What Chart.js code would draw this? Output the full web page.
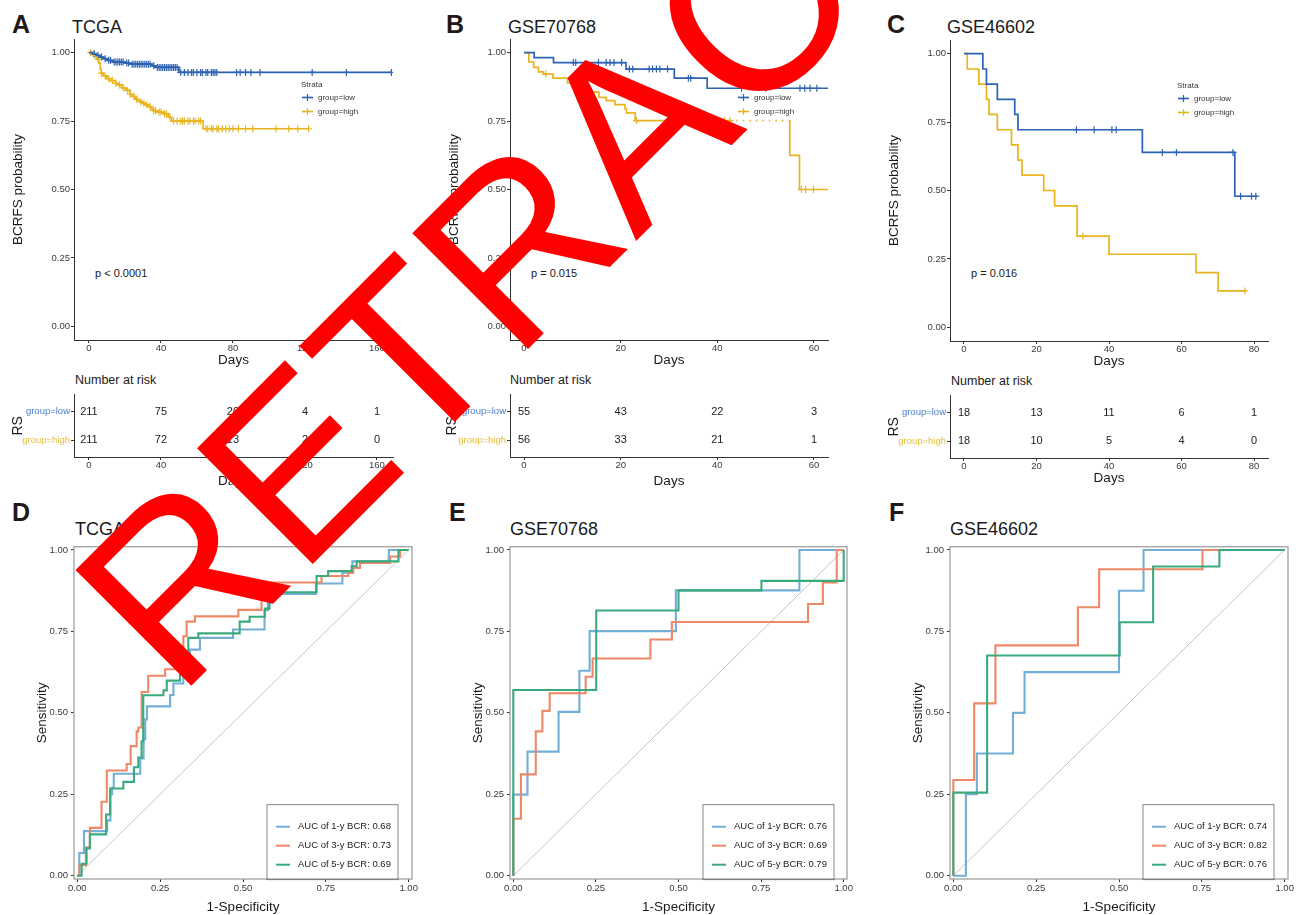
<!DOCTYPE html>
<html>
<head>
<meta charset="utf-8">
<script src="https://cdn.jsdelivr.net/npm/chart.js@4.4.1/dist/chart.umd.min.js"></script>
<style>
  html, body { margin: 0; padding: 0; background: #fff; overflow: hidden; }
  #fig { position: relative; width: 1303px; height: 915px; }
  canvas { position: absolute; }
  svg { position: absolute; left: 0; top: 0; }
</style>
</head>
<body>
<div id="fig">
<svg width="1303" height="915" font-family="'Liberation Sans', Arial, sans-serif">
  <g font-weight="bold" font-size="25" fill="#231815">
    <text x="12" y="33">A</text>
    <text x="446" y="33">B</text>
    <text x="887" y="33">C</text>
    <text x="12" y="521">D</text>
    <text x="449" y="521">E</text>
    <text x="889" y="521">F</text>
  </g>
  <g font-size="18" fill="#1a1a1a">
    <text x="72" y="33">TCGA</text>
    <text x="508" y="33">GSE70768</text>
    <text x="947" y="33">GSE46602</text>
    <text x="75" y="535">TCGA</text>
    <text x="510" y="535">GSE70768</text>
    <text x="950" y="535">GSE46602</text>
  </g>
  <g font-size="11" fill="#1a1a1a">
    <text x="95" y="277">p &lt; 0.0001</text>
    <text x="531" y="277">p = 0.015</text>
    <text x="971" y="277">p = 0.016</text>
  </g>
  <g font-size="12.5" fill="#1a1a1a">
    <text x="75" y="384">Number at risk</text>
    <text x="510" y="384">Number at risk</text>
    <text x="951" y="385">Number at risk</text>
  </g>
</svg>

<canvas id="kmA" width="413" height="340" style="left:0px;top:30px"></canvas>
<canvas id="kmB" width="418" height="340" style="left:430px;top:30px"></canvas>
<canvas id="kmC" width="418" height="340" style="left:870px;top:31px"></canvas>
<canvas id="riskA" width="413" height="103" style="left:0px;top:388px"></canvas>
<canvas id="riskB" width="418" height="103" style="left:430px;top:388px"></canvas>
<canvas id="riskC" width="418" height="103" style="left:870px;top:389px"></canvas>
<canvas id="rocD" width="430" height="377" style="left:0px;top:538px"></canvas>
<canvas id="rocE" width="430" height="377" style="left:430px;top:538px"></canvas>
<canvas id="rocF" width="433" height="377" style="left:870px;top:538px"></canvas>

<svg width="1303" height="915" style="pointer-events:none">
  <text x="177.6" y="699.4" transform="rotate(-45 177.6 699.4)" font-size="238"
        font-family="'Liberation Sans', Arial, sans-serif" fill="#FF0000">RETRACTED</text>
</svg>
</div>

<script>
const FONT = "'Liberation Sans', Arial, sans-serif";
Chart.defaults.font.family = FONT;
Chart.defaults.animation = false;

const LOW = '#2C63B2', HIGH = '#E8B520';
const LOW_TXT = '#4A7ECB', HIGH_TXT = '#E5BC3A';
const ROC1 = '#73AED6', ROC3 = '#EE8866', ROC5 = '#3AAA7D';

// ---- KM data: event times and survival after each event ----
// TCGA
const tcgaLowTimes = [2, 4, 6, 8, 10, 13, 20, 23, 35, 37, 50];
const tcgaLowSurv = [0.995, 0.99, 0.984, 0.978, 0.972, 0.966, 0.962, 0.958, 0.952, 0.946, 0.928];
const tcgaLowEnd = 168;
const tcgaLowCensor = [3, 5, 7, 9, 11, 12, 14, 15, 16, 17, 18, 19, 21, 22, 24, 25, 26, 27, 28, 29, 30, 31, 32, 33, 34, 36, 38, 39, 40, 41, 42, 43, 44, 45, 46, 47, 48, 49, 51, 53, 55, 57, 58, 60, 62, 63, 65, 66, 68, 69, 70, 71, 82, 84, 87, 90, 95, 124, 143, 168];
const tcgaHighTimes = [1.5, 3, 4.5, 5.5, 6.3, 6.8, 8, 10, 12, 14.6, 16, 18.2, 20, 21, 22.9, 24, 25.6, 27, 28.4, 30, 31.2, 33, 34.8, 35.8, 38, 41.3, 44, 45.9, 63.4];
const tcgaHighSurv = [0.995, 0.988, 0.976, 0.962, 0.94, 0.925, 0.915, 0.905, 0.898, 0.888, 0.882, 0.872, 0.868, 0.862, 0.848, 0.84, 0.83, 0.825, 0.82, 0.815, 0.81, 0.803, 0.795, 0.788, 0.783, 0.777, 0.764, 0.75, 0.722];
const tcgaHighEnd = 122;
const tcgaHighCensor = [1, 2.5, 4, 5, 7, 9, 11, 13, 15, 17, 19, 21.5, 23, 25, 26.5, 29, 30.5, 32, 34, 36, 37, 39, 40, 42, 43, 45, 47, 49, 51, 52, 53, 55, 56, 58, 59, 61, 62, 65, 66, 68, 69, 71, 72, 74, 76, 78, 80, 83, 87, 91, 104, 111, 116, 122];

// GSE70768
const g70LowTimes = [2.1, 6.1, 21.1, 31.1, 37.9];
const g70LowSurv = [0.982, 0.964, 0.94, 0.907, 0.87];
const g70LowEnd = 63;
const g70LowCensor = [10.2, 10.7, 15.4, 17, 17.8, 18.6, 20.2, 21.8, 22.5, 25.9, 26.6, 27.4, 28.1, 29.7, 34, 34.5, 45, 50, 57.1, 58.1, 59.2, 60.6];
const g70HighTimes = [1, 2, 3, 4, 6, 9, 11, 13, 15.5, 17, 18.8, 20.9, 21.2, 23, 42.6, 54.9, 55, 57];
const g70HighSurv = [0.966, 0.946, 0.93, 0.922, 0.907, 0.89, 0.873, 0.856, 0.837, 0.825, 0.81, 0.795, 0.78, 0.752, 0.752, 0.752, 0.625, 0.5];
const g70HighEnd = 63;
const g70HighCensor = [4.5, 23.3, 40.5, 41.5, 42.6, 57.4, 58.3, 59.9];

// GSE46602
const g46LowTimes = [5.2, 6.2, 9.2, 14, 14.9, 49.2, 74.7];
const g46LowSurv = [0.944, 0.889, 0.833, 0.778, 0.722, 0.639, 0.479];
const g46LowEnd = 81;
const g46LowCensor = [31, 35.9, 40.8, 42, 54.7, 58.6, 74.2, 76.3, 79.3, 80.5];
const g46HighTimes = [0.9, 4.1, 6.2, 6.9, 9.2, 13.1, 14.9, 16, 22, 25, 31.2, 40, 64, 70.1];
const g46HighSurv = [0.944, 0.889, 0.833, 0.778, 0.722, 0.667, 0.611, 0.556, 0.5, 0.444, 0.333, 0.267, 0.2, 0.133];
const g46HighEnd = 77.5;
const g46HighCensor = [32.8, 77.5];

// ---- Number at risk ----
const riskTimesA = [0, 40, 80, 120, 160];
const riskLowA = [211, 75, 20, 4, 1];
const riskHighA = [211, 72, 13, 2, 0];
const riskTimesB = [0, 20, 40, 60];
const riskLowB = [55, 43, 22, 3];
const riskHighB = [56, 33, 21, 1];
const riskTimesC = [0, 20, 40, 60, 80];
const riskLowC = [18, 13, 11, 6, 1];
const riskHighC = [18, 10, 5, 4, 0];

// ---- ROC curves (1-specificity, sensitivity) ----
const rocD1x = [0, 0.006, 0.02, 0.09, 0.10, 0.105, 0.11, 0.19, 0.20, 0.205, 0.21, 0.28, 0.29, 0.32, 0.34, 0.37, 0.47, 0.565, 0.575, 0.585, 0.72, 0.80, 0.83, 0.94, 1];
const rocD1y = [0, 0.07, 0.137, 0.17, 0.25, 0.27, 0.313, 0.36, 0.42, 0.48, 0.52, 0.555, 0.59, 0.62, 0.694, 0.73, 0.756, 0.815, 0.84, 0.865, 0.897, 0.93, 0.965, 1, 1];
const rocD3x = [0, 0.006, 0.026, 0.038, 0.073, 0.089, 0.149, 0.161, 0.179, 0.184, 0.194, 0.214, 0.265, 0.30, 0.32, 0.33, 0.355, 0.486, 0.556, 0.575, 0.737, 0.818, 0.833, 0.853, 0.944, 0.974, 1];
const rocD3y = [0, 0.032, 0.087, 0.147, 0.227, 0.323, 0.343, 0.398, 0.443, 0.455, 0.564, 0.614, 0.634, 0.68, 0.735, 0.78, 0.796, 0.816, 0.85, 0.90, 0.92, 0.93, 0.945, 0.96, 0.98, 1, 1];
const rocD5x = [0, 0.013, 0.028, 0.038, 0.087, 0.099, 0.139, 0.171, 0.184, 0.194, 0.199, 0.26, 0.27, 0.31, 0.32, 0.335, 0.365, 0.49, 0.52, 0.566, 0.58, 0.59, 0.722, 0.757, 0.828, 0.843, 0.969, 1];
const rocD5y = [0, 0.037, 0.084, 0.127, 0.188, 0.268, 0.288, 0.333, 0.363, 0.413, 0.554, 0.569, 0.599, 0.65, 0.68, 0.73, 0.744, 0.78, 0.795, 0.82, 0.85, 0.87, 0.92, 0.935, 0.95, 0.965, 1, 1];
const aucD = [0.68, 0.73, 0.69];

const rocE1x = [0, 0, 0.043, 0.137, 0.2, 0.231, 0.492, 0.866, 1];
const rocE1y = [0, 0.249, 0.381, 0.503, 0.629, 0.751, 0.876, 1, 1];
const rocE3x = [0, 0, 0.023, 0.068, 0.088, 0.11, 0.219, 0.24, 0.415, 0.48, 0.892, 0.937, 0.979, 1];
const rocE3y = [0, 0.175, 0.311, 0.443, 0.506, 0.56, 0.611, 0.667, 0.725, 0.779, 0.834, 0.9, 1, 1];
const rocE5x = [0, 0, 0.251, 0.5, 0.751, 1];
const rocE5y = [0, 0.57, 0.814, 0.876, 0.905, 1];
const aucE = [0.76, 0.69, 0.79];

const rocF1x = [0, 0.038, 0.071, 0.18, 0.215, 0.5, 0.574, 1];
const rocF1y = [0, 0.25, 0.375, 0.5, 0.625, 0.875, 1, 1];
const rocF3x = [0, 0, 0.063, 0.127, 0.376, 0.44, 0.752, 1];
const rocF3y = [0, 0.294, 0.529, 0.707, 0.824, 0.941, 1, 1];
const rocF5x = [0, 0, 0.102, 0.502, 0.603, 0.803, 1];
const rocF5y = [0, 0.255, 0.676, 0.778, 0.949, 1, 1];
const aucF = [0.74, 0.82, 0.76];

const probTicks = [0, 0.25, 0.5, 0.75, 1];

// ---- helpers ----
function kmPoints(times, surv, end) {
  const pts = [{ x: 0, y: 1 }];
  times.forEach((t, i) => pts.push({ x: t, y: surv[i] }));
  pts.push({ x: end, y: surv[surv.length - 1] });
  return pts;
}
function survAt(times, surv, t) {
  let s = 1;
  for (let i = 0; i < times.length; i++) if (times[i] <= t) s = surv[i];
  return s;
}
function xy(xs, ys) {
  return xs.map((x, i) => ({ x: x, y: ys[i] }));
}

function axis(min, max, ticks, fmt, o) {
  return {
    type: 'linear', min: min, max: max,
    afterBuildTicks: s => { s.ticks = ticks.map(v => ({ value: v })); },
    afterFit: o.fit,
    ticks: { callback: fmt, font: { size: 9.5 }, color: o.tickColor || '#3a3a3a',
             padding: o.pad, maxRotation: 0, autoSkip: false },
    grid: { display: true, drawOnChartArea: false, drawTicks: true, tickLength: 3, tickColor: '#333' },
    border: { display: o.border !== false, color: '#333', width: 1 },
    title: o.title
  };
}

const kmLegend = {
  id: 'kmLegend',
  afterDraw(chart, args, opts) {
    const { ctx, chartArea } = chart;
    const x = chartArea.left + opts.dx, y = chartArea.top + opts.dy;
    ctx.save();
    ctx.font = '8px ' + FONT;
    ctx.fillStyle = '#333';
    ctx.fillText('Strata', x, y);
    chart.data.datasets.filter(d => d.legend).forEach((d, i) => {
      const yy = y + 10.5 + i * 14;
      ctx.strokeStyle = d.borderColor;
      ctx.lineWidth = 1.7;
      ctx.beginPath(); ctx.moveTo(x + 1, yy); ctx.lineTo(x + 12, yy); ctx.stroke();
      ctx.lineWidth = 1.2;
      ctx.beginPath(); ctx.moveTo(x + 6.5, yy - 3.5); ctx.lineTo(x + 6.5, yy + 3.5); ctx.stroke();
      ctx.fillStyle = '#333';
      ctx.textBaseline = 'middle';
      ctx.fillText(d.label, x + 17, yy);
      ctx.textBaseline = 'alphabetic';
    });
    ctx.restore();
  }
};

const riskText = {
  id: 'riskText',
  afterDatasetsDraw(chart) {
    const ctx = chart.ctx;
    ctx.save();
    ctx.font = '11px ' + FONT;
    ctx.fillStyle = '#222';
    ctx.textAlign = 'center';
    ctx.textBaseline = 'middle';
    chart.data.datasets.forEach((ds, i) => {
      chart.getDatasetMeta(i).data.forEach((el, j) => ctx.fillText(String(ds.data[j].n), el.x, el.y));
    });
    ctx.restore();
  }
};

const rocFrame = {
  id: 'rocFrame',
  afterDraw(chart) {
    const { ctx, chartArea: a } = chart;
    ctx.save();
    ctx.strokeStyle = '#A0A0A0';
    ctx.lineWidth = 1.3;
    ctx.strokeRect(a.left, a.top, a.right - a.left, a.bottom - a.top);
    // legend box
    const bx = a.left + 193, by = a.top + 258;
    ctx.strokeStyle = '#666';
    ctx.lineWidth = 0.8;
    ctx.strokeRect(bx, by, 131, 75);
    ctx.font = '9.5px ' + FONT;
    ctx.textBaseline = 'middle';
    const items = chart.data.datasets.filter(d => d.legendIndex !== undefined)
      .sort((p, q) => p.legendIndex - q.legendIndex);
    items.forEach((d, i) => {
      const yy = by + 22 + i * 19;
      ctx.strokeStyle = d.borderColor;
      ctx.lineWidth = 2;
      ctx.beginPath(); ctx.moveTo(bx + 9, yy); ctx.lineTo(bx + 23, yy); ctx.stroke();
      ctx.fillStyle = '#222';
      ctx.fillText(d.label, bx + 31, yy);
    });
    ctx.restore();
  }
};

const fmt2 = v => v.toFixed(2);
const fmt0 = v => String(v);

function kmChart(id, s) {
  const lowC = s.lowCensor.map(c => ({ x: c, y: survAt(s.lowTimes, s.lowSurv, c) }));
  const highC = s.highCensor.map(c => ({ x: c, y: survAt(s.highTimes, s.highSurv, c) }));
  new Chart(document.getElementById(id), {
    type: 'scatter',
    data: {
      datasets: [
        { label: 'group=low', legend: true, data: kmPoints(s.lowTimes, s.lowSurv, s.lowEnd), showLine: true,
          stepped: true, borderColor: LOW, borderWidth: 1.7, pointRadius: 0 },
        { label: 'group=high', legend: true, data: kmPoints(s.highTimes, s.highSurv, s.highEnd), showLine: true,
          stepped: true, borderColor: HIGH, borderWidth: 1.7, pointRadius: 0, segment: s.highSegment },
        { data: lowC, pointStyle: 'cross', pointRadius: 3.5, borderColor: LOW, borderWidth: 1.2 },
        { data: highC, pointStyle: 'cross', pointRadius: 3.5, borderColor: HIGH, borderWidth: 1.2 }
      ]
    },
    options: {
      responsive: false, devicePixelRatio: 1, events: [],
      layout: { padding: { top: 9, right: s.padRight, left: 0, bottom: 0 } },
      plugins: { legend: { display: false }, tooltip: { enabled: false }, kmLegend: { dx: 227, dy: 48 } },
      scales: {
        x: axis(s.xMin, s.xMax, s.xTicks, fmt0, {
          fit: sc => { sc.height = 30; }, pad: 0,
          title: { display: true, text: 'Days', font: { size: 13.5 }, color: '#1a1a1a', padding: { top: 0, bottom: 2 } }
        }),
        y: axis(-0.05, 1.05, probTicks, fmt2, {
          fit: sc => { sc.width = s.yWidth; }, pad: 1,
          title: { display: true, text: 'BCRFS probability', font: { size: 13.5 }, color: '#1a1a1a',
                   padding: { top: s.yTitlePad, bottom: 0 } }
        })
      }
    },
    plugins: [kmLegend]
  });
}

function riskChart(id, s) {
  new Chart(document.getElementById(id), {
    type: 'scatter',
    data: {
      datasets: [
        { data: s.times.map((t, i) => ({ x: t, y: 2, n: s.low[i] })), pointRadius: 0 },
        { data: s.times.map((t, i) => ({ x: t, y: 1, n: s.high[i] })), pointRadius: 0 }
      ]
    },
    options: {
      responsive: false, devicePixelRatio: 1, events: [],
      layout: { padding: { top: 4, right: s.padRight, left: 0, bottom: 0 } },
      plugins: { legend: { display: false }, tooltip: { enabled: false } },
      scales: {
        x: axis(s.xMin, s.xMax, s.times, fmt0, {
          fit: sc => { sc.height = 34; }, pad: 0,
          title: { display: true, text: 'Days', font: { size: 13.5 }, color: '#1a1a1a',
                   padding: { top: 0, bottom: s.xTitlePad } }
        }),
        y: axis(0.4, 2.6, [1, 2], v => (v === 2 ? 'group=low' : 'group=high'), {
          fit: sc => { sc.width = s.yWidth; }, pad: 1,
          tickColor: c => (c.tick && c.tick.value === 2 ? LOW_TXT : HIGH_TXT),
          title: { display: true, text: 'RS', font: { size: 14 }, color: '#1a1a1a',
                   padding: { top: s.yTitlePad, bottom: 0 } }
        })
      }
    },
    plugins: [riskText]
  });
}

function rocChart(id, s) {
  new Chart(document.getElementById(id), {
    type: 'scatter',
    data: {
      datasets: [
        { label: 'AUC of 5-y BCR: ' + s.auc[2].toFixed(2), legendIndex: 2, data: xy(s.x5, s.y5), showLine: true,
          stepped: true, borderColor: ROC5, borderWidth: 2.1, pointRadius: 0 },
        { label: 'AUC of 3-y BCR: ' + s.auc[1].toFixed(2), legendIndex: 1, data: xy(s.x3, s.y3), showLine: true,
          stepped: true, borderColor: ROC3, borderWidth: 2.1, pointRadius: 0 },
        { label: 'AUC of 1-y BCR: ' + s.auc[0].toFixed(2), legendIndex: 0, data: xy(s.x1, s.y1), showLine: true,
          stepped: true, borderColor: ROC1, borderWidth: 2.1, pointRadius: 0 },
        { data: [{ x: 0, y: 0 }, { x: 1, y: 1 }], showLine: true, borderColor: '#BDBDBD', borderWidth: 0.9, pointRadius: 0 }
      ]
    },
    options: {
      responsive: false, devicePixelRatio: 1, events: [],
      layout: { padding: { top: 4, right: s.padRight, left: 0, bottom: 0 } },
      plugins: { legend: { display: false }, tooltip: { enabled: false } },
      scales: {
        x: axis(-0.01, 1.01, probTicks, fmt2, {
          fit: sc => { sc.height = 36; }, pad: 1, border: false,
          title: { display: true, text: '1-Specificity', font: { size: 13.5 }, color: '#1a1a1a',
                   padding: { top: 0, bottom: 0 } }
        }),
        y: axis(-0.01, 1.01, probTicks, fmt2, {
          fit: sc => { sc.width = s.yWidth; }, pad: 3, border: false,
          title: { display: true, text: 'Sensitivity', font: { size: 13.5 }, color: '#1a1a1a',
                   padding: { top: s.yTitlePad, bottom: 0 } }
        })
      }
    },
    plugins: [rocFrame]
  });
}

// ---- build panels ----
kmChart('kmA', { lowTimes: tcgaLowTimes, lowSurv: tcgaLowSurv, lowEnd: tcgaLowEnd, lowCensor: tcgaLowCensor,
  highTimes: tcgaHighTimes, highSurv: tcgaHighSurv, highEnd: tcgaHighEnd, highCensor: tcgaHighCensor,
  xMin: -8.3, xMax: 168.9, xTicks: riskTimesA, yWidth: 74, yTitlePad: 10, padRight: 20 });

kmChart('kmB', { lowTimes: g70LowTimes, lowSurv: g70LowSurv, lowEnd: g70LowEnd, lowCensor: g70LowCensor,
  highTimes: g70HighTimes, highSurv: g70HighSurv, highEnd: g70HighEnd, highCensor: g70HighCensor,
  highSegment: { borderDash: c => (c.p0.parsed.x >= 42 && c.p1.parsed.x < 55 ? [1.5, 5] : undefined) },
  xMin: -2.9, xMax: 62.9, xTicks: riskTimesB, yWidth: 80, yTitlePad: 16, padRight: 20 });

kmChart('kmC', { lowTimes: g46LowTimes, lowSurv: g46LowSurv, lowEnd: g46LowEnd, lowCensor: g46LowCensor,
  highTimes: g46HighTimes, highSurv: g46HighSurv, highEnd: g46HighEnd, highCensor: g46HighCensor,
  xMin: -3.86, xMax: 83.86, xTicks: riskTimesC, yWidth: 80, yTitlePad: 16, padRight: 20 });

riskChart('riskA', { times: riskTimesA, low: riskLowA, high: riskHighA, xMin: -8.3, xMax: 168.9,
  yWidth: 74, yTitlePad: 10, padRight: 20, xTitlePad: 2 });
riskChart('riskB', { times: riskTimesB, low: riskLowB, high: riskHighB, xMin: -2.9, xMax: 62.9,
  yWidth: 80, yTitlePad: 14, padRight: 20, xTitlePad: 2 });
riskChart('riskC', { times: riskTimesC, low: riskLowC, high: riskHighC, xMin: -3.86, xMax: 83.86,
  yWidth: 80, yTitlePad: 16, padRight: 20, xTitlePad: 6 });

rocChart('rocD', { x1: rocD1x, y1: rocD1y, x3: rocD3x, y3: rocD3y, x5: rocD5x, y5: rocD5y, auc: aucD,
  yWidth: 74, yTitlePad: 34, padRight: 18 });
rocChart('rocE', { x1: rocE1x, y1: rocE1y, x3: rocE3x, y3: rocE3y, x5: rocE5x, y5: rocE5y, auc: aucE,
  yWidth: 80, yTitlePad: 40, padRight: 13 });
rocChart('rocF', { x1: rocF1x, y1: rocF1y, x3: rocF3x, y3: rocF3y, x5: rocF5x, y5: rocF5y, auc: aucF,
  yWidth: 80, yTitlePad: 40, padRight: 15 });
</script>
</body>
</html>
